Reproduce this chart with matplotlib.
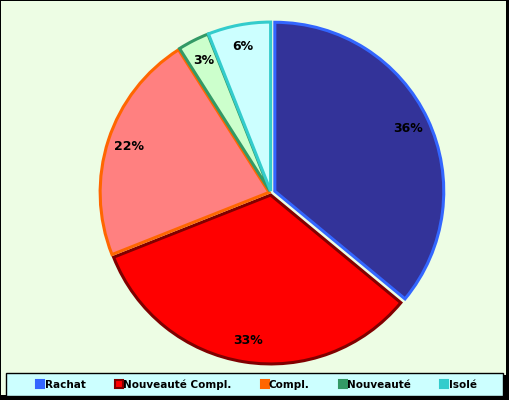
import matplotlib.pyplot as plt
from matplotlib.patches import Rectangle
from matplotlib.lines import Line2D

labels = ['Rachat', 'Nouveauté Compl.', 'Compl.', 'Nouveauté', 'Isolé']
values = [36, 33, 22, 3, 6]
fills = ['#333399', '#ff0000', '#ff8080', '#ccffcc', '#ccffff']
edges = ['#3366ff', '#800000', '#ff6600', '#339966', '#33cccc']
explode = [0.025, 0.012, 0.012, 0.012, 0.012]

W, H = 510, 400
fig = plt.figure(figsize=(W / 100, H / 100), dpi=100)
fig.patch.set_facecolor('black')

# background panel (black figure colour shows as frame and shadow)
fig.add_artist(Rectangle((1 / W, 5 / H), 505 / W, 394 / H, transform=fig.transFigure,
                         facecolor='#edfde4', edgecolor='none', zorder=-10))

cx, cy, r = 271, H - 193, 174
ax = fig.add_axes([(cx - r) / W, (cy - r) / H, 2 * r / W, 2 * r / H])
ax.set_zorder(1)
wedges, texts, autotexts = ax.pie(values, colors=fills, startangle=90, counterclock=False,
                                  explode=explode, autopct='%1.0f%%', pctdistance=0.87,
                                  wedgeprops=dict(linewidth=2.2),
                                  textprops=dict(fontsize=9, fontweight='bold', color='black'))
for w, e in zip(wedges, edges):
    w.set_edgecolor(e)
    w.set_joinstyle('miter')
ax.set_xlim(-1.03, 1.03)
ax.set_ylim(-1.03, 1.03)
ax.set_aspect('equal')
ax.axis('off')

# legend box with shadow
fig.add_artist(Rectangle((10 / W, 1 / H), 497 / W, 24 / H, transform=fig.transFigure,
                         facecolor='black', edgecolor='none', zorder=2))
fig.add_artist(Rectangle((6 / W, 4 / H), 497 / W, 23 / H, transform=fig.transFigure,
                         facecolor='#ccffff', edgecolor='black', linewidth=1, zorder=3))

handles = [Line2D([], [], marker='s', linestyle='none', markersize=6,
                  markerfacecolor=e, markeredgecolor=e, markeredgewidth=1.5)
           for e in edges]
handles[1].set_markerfacecolor('#ff0000')
leg = fig.legend(handles, labels, loc='center', bbox_to_anchor=(257 / W, 15.5 / H), ncol=5,
                 frameon=False, prop=dict(weight='bold', size=7.5),
                 handlelength=0.6, handletextpad=0.1, columnspacing=2.9)
leg.set_zorder(4)

fig.savefig('out.png', dpi=100, facecolor=fig.get_facecolor())
